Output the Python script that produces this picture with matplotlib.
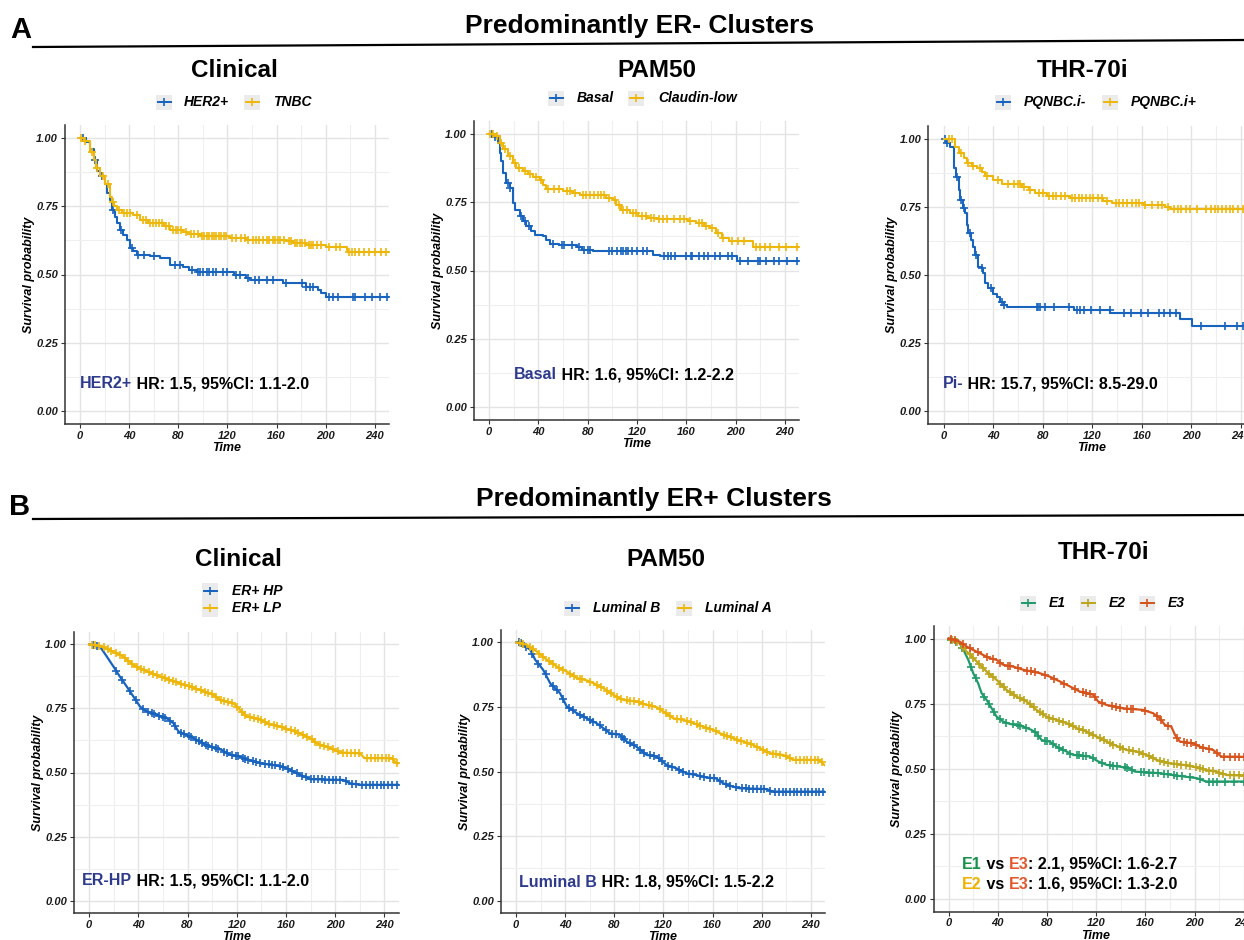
import numpy as np
import matplotlib.pyplot as plt
from matplotlib.patches import Rectangle

plt.rcParams['font.family'] = ['Liberation Sans', 'DejaVu Sans']

W, H = 1244, 940

BLUE = '#1763BE'
GOLD = '#EEB70C'
GREEN = '#229B6C'
OLIVE = '#BDA51C'
RED = '#D6531C'
NAVY = '#2E3A8C'

# ---- A / Clinical ----
her2_t = [0, 5, 8, 11, 13.5, 16, 20, 22, 24, 25.7, 28.4, 30, 32.5, 35, 38, 40.6, 43, 46, 57, 65, 73, 84, 89, 95,
          125, 135, 138, 165, 184, 194, 196, 200, 251]
her2_s = [1.0, 0.985, 0.96, 0.92, 0.88, 0.86, 0.83, 0.80, 0.774, 0.737, 0.712, 0.69, 0.663, 0.645, 0.627, 0.596,
          0.585, 0.572, 0.566, 0.559, 0.535, 0.529, 0.517, 0.508, 0.497, 0.486, 0.480, 0.470, 0.455, 0.443, 0.433,
          0.419, 0.419]
her2_cens = [2, 12, 18, 27, 33, 42, 47, 52, 60, 77, 81, 91, 96, 98, 100, 103, 105, 108, 111, 116, 120, 127, 130,
             137, 142, 146, 152, 157, 168, 181, 184, 187, 190, 203, 206, 210, 222, 224, 232, 238, 244, 250]
tnbc_t = [0, 3, 8, 11, 13, 16, 20, 24, 25.7, 28, 30, 34, 43, 49, 55.5, 65, 68, 73, 84, 88, 97.5, 122, 135, 168,
          173, 184, 200, 217, 218, 251]
tnbc_s = [1.0, 0.99, 0.95, 0.92, 0.89, 0.86, 0.83, 0.785, 0.765, 0.75, 0.737, 0.725, 0.718, 0.700, 0.690, 0.688,
          0.676, 0.663, 0.655, 0.647, 0.641, 0.633, 0.627, 0.621, 0.614, 0.608, 0.599, 0.588, 0.583, 0.583]
tnbc_cens = [1, 4, 10, 14, 19, 23, 27, 32, 36, 38, 41, 46, 51, 54, 57, 59, 62, 64, 67, 70, 72, 76, 78, 80, 82, 86,
             90, 93, 96, 99, 101, 103, 105, 107, 109, 111, 113, 115, 117, 119, 124, 127, 131, 134, 137, 141, 143,
             146, 149, 152, 154, 157, 159, 161, 163, 166, 170, 172, 175, 177, 179, 181, 183, 186, 188, 190, 193,
             196, 203, 208, 212, 219, 221, 224, 227, 231, 235, 240, 245, 249]

# ---- A / PAM50 ----
basal_t = [0, 3, 7, 8.7, 10, 11.4, 14, 16.8, 19, 21, 25, 27.6, 30, 34, 37, 44, 46.5, 49, 57, 71, 75, 84, 133,
           138.5, 201, 251]
basal_s = [1.0, 0.99, 0.968, 0.93, 0.90, 0.858, 0.821, 0.803, 0.748, 0.723, 0.699, 0.68, 0.662, 0.643, 0.631,
           0.625, 0.613, 0.598, 0.592, 0.586, 0.576, 0.570, 0.558, 0.552, 0.536, 0.536]
basal_cens = [2, 5, 15, 17, 26, 29, 32, 52, 59, 61, 67, 73, 77, 80, 82, 97, 100, 104, 107, 109, 111, 113, 116,
              120, 125, 128, 142, 145, 148, 151, 160, 164, 165, 170, 174, 178, 183, 187, 194, 197, 204, 210, 218,
              220, 225, 231, 235, 242, 250]
claudin_t = [0, 4.6, 8.7, 11.4, 15.4, 19.5, 22, 27.6, 31.7, 35.7, 41, 44, 46.5, 60, 68, 73.6, 95, 100.6, 103,
             107, 114, 121, 128, 136, 161.5, 168, 174, 179, 184.5, 188.6, 195, 214, 251]
claudin_s = [1.0, 0.993, 0.968, 0.944, 0.919, 0.895, 0.876, 0.864, 0.852, 0.843, 0.833, 0.815, 0.797, 0.79,
             0.784, 0.778, 0.766, 0.76, 0.74, 0.723, 0.711, 0.699, 0.693, 0.69, 0.68, 0.674, 0.662, 0.656, 0.637,
             0.619, 0.607, 0.586, 0.586]
claudin_cens = [1, 3, 6, 10, 13, 17, 21, 24, 29, 33, 38, 42, 48, 53, 57, 63, 66, 70, 76, 79, 82, 85, 88, 91, 93,
                97, 102, 105, 109, 112, 117, 119, 124, 127, 131, 134, 138, 141, 144, 150, 155, 158, 163, 170,
                173, 176, 181, 186, 190, 197, 202, 207, 217, 220, 224, 228, 235, 241, 250]

# ---- A / THR-70i ----
pim_t = [0, 2, 5, 8, 10, 12, 13.2, 15.4, 17.3, 18.6, 20, 22, 24, 25.4, 28, 30.8, 32, 33.5, 36, 40, 43, 45.6,
         48.3, 51, 105, 134.7, 191, 201, 251]
pim_s = [1.0, 0.985, 0.97, 0.891, 0.86, 0.811, 0.775, 0.744, 0.725, 0.683, 0.652, 0.627, 0.603, 0.572, 0.529,
         0.523, 0.505, 0.468, 0.45, 0.431, 0.419, 0.401, 0.388, 0.38, 0.37, 0.358, 0.336, 0.311, 0.311]
pim_cens = [1, 3, 11, 14, 16, 21, 26, 31, 38, 47, 49, 75, 76, 78, 82, 89, 101, 108, 110, 113, 119, 126, 134, 146,
            151, 159, 165, 174, 178, 183, 188, 208, 227, 237, 242]
pip_t = [0, 9, 12, 16, 18.6, 22.7, 26.7, 30.8, 33.5, 40, 47, 63, 68.6, 74, 83.4, 102, 129, 136, 161.7, 179, 183,
         251]
pip_s = [1.0, 0.97, 0.946, 0.928, 0.909, 0.90, 0.891, 0.879, 0.863, 0.848, 0.833, 0.824, 0.811, 0.80, 0.79,
         0.781, 0.772, 0.765, 0.756, 0.75, 0.74, 0.74]
pip_cens = [4, 7, 14, 20, 24, 29, 35, 44, 52, 57, 60, 62, 65, 70, 77, 80, 85, 88, 91, 95, 98, 104, 106, 109, 112,
            115, 118, 121, 125, 128, 132, 139, 142, 145, 148, 152, 155, 158, 163, 168, 173, 176, 181, 186, 189,
            192, 196, 199, 205, 212, 216, 219, 222, 225, 228, 231, 234, 238, 242, 246, 250]

# ---- B / Clinical ----
erhp_t = [0, 9, 14.4, 19.8, 25, 30.6, 36, 41.4, 46.9, 55, 63, 68.5, 72.6, 79, 84.8, 90, 98, 107.8, 114.6, 122.7,
          130.8, 141.7, 152.5, 160.6, 166, 171.4, 179.6, 206.7, 212, 220, 251]
erhp_s = [1.0, 0.99, 0.952, 0.913, 0.874, 0.835, 0.796, 0.757, 0.738, 0.725, 0.712, 0.692, 0.66, 0.647, 0.634,
          0.621, 0.601, 0.588, 0.569, 0.562, 0.547, 0.534, 0.527, 0.517, 0.504, 0.491, 0.474, 0.471, 0.458, 0.452,
          0.452]
erhp_cens = [3, 6, 22, 27, 33, 38, 44, 48, 51, 53, 57, 60, 62, 66, 70, 75, 77, 81, 83, 87, 89, 92, 95, 97, 100,
             103, 105, 110, 112, 116, 119, 121, 125, 127, 129, 133, 136, 139, 143, 146, 149, 151, 155, 158, 162,
             165, 169, 173, 176, 180, 183, 186, 189, 192, 195, 198, 201, 204, 209, 214, 217, 222, 225, 228, 231,
             234, 237, 240, 243, 246, 250]
erlp_t = [0, 9, 19.8, 27.9, 36, 46.9, 57.7, 65.8, 74, 82, 90, 101, 106.4, 117.3, 122.7, 128, 139, 144.4, 155,
          163.3, 171.4, 179.6, 185, 195.8, 204, 220, 224, 246, 250, 251]
erlp_s = [1.0, 0.994, 0.971, 0.952, 0.919, 0.894, 0.874, 0.861, 0.848, 0.835, 0.822, 0.803, 0.783, 0.77, 0.744,
          0.718, 0.708, 0.692, 0.679, 0.666, 0.653, 0.634, 0.614, 0.595, 0.578, 0.575, 0.556, 0.556, 0.536, 0.536]
erlp_cens = [2, 5, 8, 12, 15, 18, 22, 25, 29, 32, 35, 39, 42, 45, 49, 52, 55, 59, 62, 65, 68, 71, 75, 78, 81, 84,
             87, 91, 94, 97, 100, 103, 107, 110, 113, 116, 120, 124, 127, 131, 134, 137, 140, 143, 146, 150, 153,
             157, 160, 164, 167, 170, 174, 177, 181, 184, 188, 191, 194, 198, 202, 206, 210, 213, 216, 219, 226,
             229, 232, 235, 238, 241, 244, 247, 250]

# ---- B / PAM50 ----
lumb_t = [0, 3.3, 6, 11.4, 15.5, 22, 27.7, 35.8, 41.2, 49.4, 57.5, 65.6, 71, 76.5, 84.6, 90, 98, 106.3, 114.4,
          122.6, 130.7, 138.8, 147, 155, 163, 168.7, 176.8, 182, 204, 209, 251]
lumb_s = [1.0, 1.0, 0.99, 0.972, 0.933, 0.894, 0.842, 0.803, 0.752, 0.726, 0.706, 0.687, 0.668, 0.648, 0.642,
          0.616, 0.596, 0.564, 0.558, 0.525, 0.512, 0.493, 0.486, 0.477, 0.473, 0.454, 0.441, 0.435, 0.432, 0.422,
          0.422]
lumb_cens = [2, 4, 8, 13, 18, 24, 30, 33, 38, 43, 46, 52, 55, 60, 63, 68, 73, 78, 81, 86, 88, 93, 96, 101, 104,
             109, 112, 116, 119, 124, 127, 133, 136, 141, 144, 150, 153, 158, 161, 166, 171, 174, 179, 184, 187,
             190, 193, 196, 199, 202, 207, 211, 214, 217, 220, 223, 226, 229, 232, 235, 238, 241, 244, 247, 250]
luma_t = [0, 8.7, 16.8, 25, 33, 41.2, 49.4, 57.5, 63, 71, 79, 87.3, 98, 106.3, 114.4, 120, 128, 136, 144.3, 152.4,
          160.5, 166, 176.8, 185, 193, 198.5, 206.6, 217.5, 225.6, 247, 251]
luma_s = [1.0, 0.991, 0.965, 0.933, 0.907, 0.887, 0.862, 0.853, 0.842, 0.823, 0.797, 0.777, 0.771, 0.758, 0.749,
          0.732, 0.706, 0.7, 0.687, 0.674, 0.661, 0.648, 0.629, 0.616, 0.603, 0.59, 0.571, 0.564, 0.545, 0.545,
          0.525]
luma_cens = [3, 6, 11, 14, 19, 22, 27, 30, 35, 38, 44, 47, 52, 54, 60, 66, 69, 74, 77, 82, 85, 90, 93, 96, 100,
             103, 108, 111, 117, 122, 125, 131, 134, 139, 142, 147, 150, 155, 158, 163, 169, 172, 175, 180, 183,
             188, 191, 196, 201, 204, 209, 212, 215, 220, 223, 228, 231, 234, 237, 240, 243, 246, 249]

# ---- B / THR-70i ----
e1_t = [0, 5, 9, 13.3, 16, 20, 24, 26.8, 30.9, 35, 39, 44.4, 49.8, 60.7, 67.4, 71.5, 75.6, 82.3, 87.8, 95.9,
        101.3, 114.8, 121.6, 128.4, 139, 147, 151.4, 171.7, 180, 201.5, 209.6, 251]
e1_s = [1.0, 0.99, 0.982, 0.944, 0.918, 0.867, 0.828, 0.79, 0.764, 0.732, 0.7, 0.681, 0.672, 0.662, 0.649, 0.636,
        0.61, 0.604, 0.585, 0.566, 0.553, 0.547, 0.528, 0.515, 0.508, 0.502, 0.489, 0.483, 0.477, 0.464, 0.451,
        0.451]
e1_cens = [2, 6, 11, 18, 22, 29, 33, 37, 42, 47, 52, 56, 58, 63, 70, 73, 78, 80, 85, 90, 93, 99, 104, 106, 109,
           112, 117, 125, 131, 134, 137, 143, 145, 149, 156, 159, 163, 166, 170, 175, 178, 183, 186, 190, 196, 204,
           212, 215, 218, 225, 232, 240, 246]
e2_t = [0, 9, 14.6, 22.8, 30.9, 39, 47, 55, 63.4, 71.5, 79.6, 87.8, 95.9, 104, 112, 120, 128.4, 136.5, 144.6,
        152.8, 160.9, 169, 180, 190.7, 198.8, 209.6, 217.8, 226, 251]
e2_s = [1.0, 0.982, 0.95, 0.912, 0.873, 0.841, 0.803, 0.777, 0.758, 0.726, 0.7, 0.688, 0.675, 0.656, 0.643, 0.624,
        0.604, 0.588, 0.572, 0.566, 0.553, 0.534, 0.521, 0.515, 0.508, 0.495, 0.489, 0.476, 0.472]
e2_cens = [3, 7, 12, 17, 20, 25, 28, 33, 36, 42, 45, 50, 53, 58, 61, 66, 69, 74, 77, 82, 85, 90, 93, 98, 101, 106,
           109, 114, 117, 123, 126, 131, 134, 139, 142, 147, 150, 155, 158, 163, 166, 172, 175, 178, 183, 186, 189,
           193, 196, 201, 204, 207, 212, 215, 220, 223, 229, 232, 236, 240, 244, 248]
e3_t = [0, 9, 14.6, 20, 28, 33.6, 39, 44.4, 52.5, 60.7, 74, 82, 90.5, 98.6, 106.7, 117.5, 121.6, 128.4, 141.9,
        158, 166.3, 171.7, 175.8, 181, 184, 188, 198.8, 204, 215, 221.8, 251]
e3_s = [1.0, 0.988, 0.969, 0.956, 0.937, 0.924, 0.918, 0.899, 0.892, 0.88, 0.867, 0.854, 0.835, 0.816, 0.796,
        0.784, 0.758, 0.745, 0.732, 0.726, 0.713, 0.694, 0.668, 0.662, 0.63, 0.604, 0.598, 0.585, 0.572, 0.547,
        0.545]
e3_cens = [2, 5, 12, 17, 24, 31, 36, 42, 48, 50, 56, 64, 67, 70, 78, 86, 94, 103, 109, 112, 115, 119, 125, 133,
           136, 139, 145, 148, 150, 160, 169, 173, 178, 186, 191, 194, 197, 201, 207, 212, 218, 224, 229, 233, 236,
           240, 245]

xtick_vals = [0, 40, 80, 120, 160, 200, 240]
ytick_vals = [0, 0.25, 0.5, 0.75, 1.0]
ytick_labels = ['0.00', '0.25', '0.50', '0.75', '1.00']

# panel boxes in pixels: left, top, right, bottom
panels = [
    dict(rect=(65, 125, 389, 424), title='Clinical', tpos=(234, 77), smooth=False,
         curves=[(her2_t, her2_s, her2_cens, BLUE), (tnbc_t, tnbc_s, tnbc_cens, GOLD)],
         legend=[('HER2+', BLUE, 156, 184), ('TNBC', GOLD, 244, 273)], ly=102,
         note=[[('HER2+', NAVY), (' HR: 1.5, 95%CI: 1.1-2.0', 'black')]], npos=(0, 0.10)),
    dict(rect=(474, 121, 799, 420), title='PAM50', tpos=(657, 77), smooth=False,
         curves=[(basal_t, basal_s, basal_cens, BLUE), (claudin_t, claudin_s, claudin_cens, GOLD)],
         legend=[('Basal', BLUE, 548, 577), ('Claudin-low', GOLD, 628, 658)], ly=98,
         note=[[('Basal', NAVY), (' HR: 1.6, 95%CI: 1.2-2.2', 'black')]], npos=(20, 0.117)),
    dict(rect=(928.5, 125.5, 1255, 424), title='THR-70i', tpos=(1083, 77), smooth=False,
         curves=[(pim_t, pim_s, pim_cens, BLUE), (pip_t, pip_s, pip_cens, GOLD)],
         legend=[('PQNBC.i-', BLUE, 995, 1024), ('PQNBC.i+', GOLD, 1102, 1131)], ly=102,
         note=[[('Pi-', NAVY), (' HR: 15.7, 95%CI: 8.5-29.0', 'black')]], npos=(-1, 0.10)),
    dict(rect=(74, 632, 398.5, 913), title='Clinical', tpos=(238, 566), smooth=True,
         curves=[(erhp_t, erhp_s, erhp_cens, BLUE), (erlp_t, erlp_s, erlp_cens, GOLD)],
         legend=None, ly=None,
         note=[[('ER-HP', NAVY), (' HR: 1.5, 95%CI: 1.1-2.0', 'black')]], npos=(-5.5, 0.078)),
    dict(rect=(501, 630, 825, 913), title='PAM50', tpos=(666, 566), smooth=True,
         curves=[(lumb_t, lumb_s, lumb_cens, BLUE), (luma_t, luma_s, luma_cens, GOLD)],
         legend=[('Luminal B', BLUE, 564, 593), ('Luminal A', GOLD, 676, 705)], ly=608,
         note=[[('Luminal B', NAVY), (' HR: 1.8, 95%CI: 1.5-2.2', 'black')]], npos=(2.4, 0.072)),
    dict(rect=(933.5, 626, 1258, 911.5), title='THR-70i', tpos=(1104, 559), smooth=True,
         curves=[(e1_t, e1_s, e1_cens, GREEN), (e2_t, e2_s, e2_cens, OLIVE), (e3_t, e3_s, e3_cens, RED)],
         legend=[('E1', GREEN, 1020, 1049), ('E2', OLIVE, 1080, 1109), ('E3', RED, 1139, 1168)], ly=603,
         note=[[('E1', '#17914A'), (' vs ', 'black'), ('E3', '#E4572E'), (': 2.1, 95%CI: 1.6-2.7', 'black')],
               [('E2', '#F0B000'), (' vs ', 'black'), ('E3', '#E4572E'), (': 1.6, 95%CI: 1.3-2.0', 'black')]],
         npos=(11, 0.134)),
]

fig = plt.figure(figsize=(W / 100, H / 100), dpi=100)


def rich_text(ax, x, y, parts, size=11.5):
    t = ax.text(x, y, parts[0][0], color=parts[0][1], fontsize=size, fontweight='bold', va='center', ha='left')
    for s, c in parts[1:]:
        t = ax.annotate(s, xycoords=t, xy=(1, 0), va='bottom', ha='left', color=c,
                        fontsize=size, fontweight='bold')


for p in panels:
    l, t, r, b = p['rect']
    ax = fig.add_axes([l / W, 1 - b / H, (r - l) / W, (b - t) / H])
    ax.set_xlim(-12.3, 251.5)
    ax.set_ylim(-0.048, 1.048)
    ax.set_xticks(xtick_vals, labels=[str(v) for v in xtick_vals], fontweight='bold', fontstyle='italic',
                  fontsize=8, color='#1a1a1a')
    ax.set_xticks(range(20, 241, 40), minor=True)
    ax.set_yticks(ytick_vals, labels=ytick_labels, fontweight='bold', fontstyle='italic',
                  fontsize=8, color='#1a1a1a')
    ax.set_yticks([0.125, 0.375, 0.625, 0.875], minor=True)
    ax.grid(which='major', color='#E4E4E4', lw=1.0)
    ax.grid(which='minor', color='#EFEFEF', lw=0.8)
    ax.set_axisbelow(True)
    for side in ['top', 'right']:
        ax.spines[side].set_visible(False)
    for side in ['left', 'bottom']:
        ax.spines[side].set_color('#333333')
        ax.spines[side].set_linewidth(1.1)
    ax.tick_params(which='major', length=3, width=0.8, color='#333333', pad=2)
    ax.tick_params(which='minor', length=0)
    ax.set_xlabel('Time', fontsize=9, fontweight='bold', fontstyle='italic', labelpad=1)
    ax.set_ylabel('Survival probability', fontsize=9, fontweight='bold', fontstyle='italic', labelpad=1)

    for ct, cs, cc, col in p['curves']:
        ct = np.array(ct)
        cs = np.array(cs)
        cc = np.array(cc)
        if p['smooth']:
            ax.plot(ct, cs, color=col, lw=1.6)
            cy = np.interp(cc, ct, cs)
        else:
            ax.plot(ct, cs, color=col, lw=1.5, drawstyle='steps-post')
            cy = cs[np.searchsorted(ct, cc, side='right') - 1]
        ax.plot(cc, cy, ls='none', marker='+', color=col, ms=6, mew=1.2)

    nx, ny = p['npos']
    for i, parts in enumerate(p['note']):
        rich_text(ax, nx, ny - i * 0.078, parts)

# overlay for headers, titles and legends
ov = fig.add_axes([0, 0, 1, 1])
ov.set_xlim(0, W)
ov.set_ylim(H, 0)
ov.axis('off')

ov.text(10, 38, 'A', fontsize=21, fontweight='bold', va='baseline', ha='left')
ov.text(640, 33, 'Predominantly ER- Clusters', fontsize=19, fontweight='bold', va='baseline', ha='center')
ov.plot([33, 1244], [47, 40], color='black', lw=1.6)
ov.text(9, 515, 'B', fontsize=21, fontweight='bold', va='baseline', ha='left')
ov.text(654, 506, 'Predominantly ER+ Clusters', fontsize=19, fontweight='bold', va='baseline', ha='center')
ov.plot([33, 1244], [519, 515], color='black', lw=1.6)


def legend_key(x, y, color):
    ov.plot([x + 1.5, x + 14.5], [y, y], color=color, lw=1.4)
    ov.plot([x + 8], [y], marker='+', color=color, ms=6, mew=1.2)


for p in panels:
    tx, ty = p['tpos']
    ov.text(tx, ty, p['title'], fontsize=17.5, fontweight='bold', ha='center', va='baseline')
    if p['legend'] is not None:
        for lab, col, kx, lx in p['legend']:
            ov.add_patch(Rectangle((kx, p['ly'] - 7.5), 16, 15, facecolor='#EBEBEB', edgecolor='none'))
            legend_key(kx, p['ly'], col)
            ov.text(lx, p['ly'], lab, fontsize=10, fontweight='bold', fontstyle='italic', va='center')

# vertical legend for ER+ clinical panel
ov.add_patch(Rectangle((202, 583), 16, 34, facecolor='#EBEBEB', edgecolor='none'))
for lab, col, ky in [('ER+ HP', BLUE, 591), ('ER+ LP', GOLD, 608)]:
    legend_key(202, ky, col)
    ov.text(232, ky, lab, fontsize=10, fontweight='bold', fontstyle='italic', va='center')

fig.savefig('out.png', dpi=100, facecolor='white')
